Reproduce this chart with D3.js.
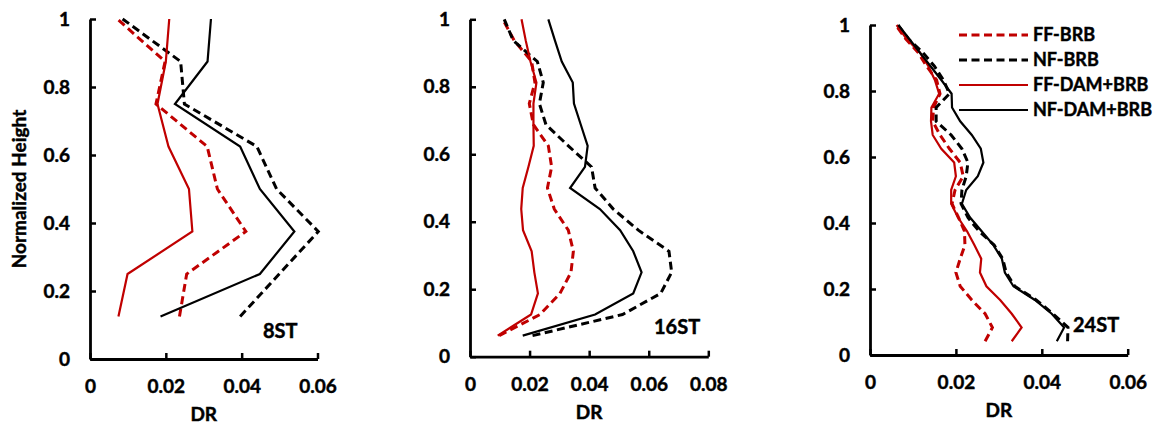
<!DOCTYPE html>
<html>
<head>
<meta charset="utf-8">
<script src="https://cdn.jsdelivr.net/npm/d3@7/dist/d3.min.js"></script>
<style>
  html, body { margin: 0; padding: 0; background: #fff; }
  svg { display: block; }
  text { font-family: Lato, "Open Sans", sans-serif; font-weight: 700; fill: #000;
         stroke: #000; stroke-width: 0.45px; }
</style>
</head>
<body>
<svg id="chart" width="1158" height="427"></svg>
<script>
// Normalized storey heights for each building
const heights8 = [0.125, 0.25, 0.375, 0.5, 0.625, 0.75, 0.875, 1];
const heights16 = [0.0625, 0.125, 0.1875, 0.25, 0.3125, 0.375, 0.4375, 0.5,
                   0.5625, 0.625, 0.6875, 0.75, 0.8125, 0.875, 0.9375, 1];
const heights24 = [0.0417, 0.0833, 0.125, 0.1667, 0.2083, 0.25, 0.2917, 0.3333,
                   0.375, 0.4167, 0.4583, 0.5, 0.5417, 0.5833, 0.625, 0.6667,
                   0.7083, 0.75, 0.7917, 0.8333, 0.875, 0.9167, 0.9583, 1];

// Series names (legend order)
const seriesNames = ["FF-BRB", "NF-BRB", "FF-DAM+BRB", "NF-DAM+BRB"];

// Peak drift ratios, bottom storey first — 8-storey frame
const dr8_ffBrb    = [0.0236, 0.0255, 0.0411, 0.0336, 0.0309, 0.0174, 0.0198, 0.0072];
const dr8_nfBrb    = [0.0396, 0.0499, 0.0602, 0.0492, 0.0440, 0.0249, 0.0239, 0.0086];
const dr8_ffDamBrb = [0.0075, 0.0099, 0.0270, 0.0261, 0.0207, 0.0178, 0.0200, 0.0209];
const dr8_nfDamBrb = [0.0186, 0.0448, 0.0539, 0.0448, 0.0396, 0.0224, 0.0310, 0.0319];

// 16-storey frame
const dr16_ffBrb    = [0.0098, 0.0235, 0.0302, 0.0339, 0.0347, 0.0330, 0.0283, 0.0260,
                       0.0274, 0.0263, 0.0213, 0.0199, 0.0218, 0.0207, 0.0148, 0.0110];
const dr16_nfBrb    = [0.0210, 0.0512, 0.0640, 0.0677, 0.0668, 0.0565, 0.0481, 0.0420,
                       0.0408, 0.0330, 0.0255, 0.0233, 0.0246, 0.0226, 0.0145, 0.0115];
const dr16_ffDamBrb = [0.0093, 0.0205, 0.0228, 0.0216, 0.0207, 0.0178, 0.0172, 0.0177,
                       0.0196, 0.0214, 0.0213, 0.0213, 0.0223, 0.0203, 0.0187, 0.0173];
const dr16_nfDamBrb = [0.0177, 0.0420, 0.0548, 0.0576, 0.0548, 0.0504, 0.0436, 0.0336,
                       0.0386, 0.0395, 0.0372, 0.0349, 0.0345, 0.0308, 0.0285, 0.0263];

// 24-storey frame
const dr24_ffBrb    = [0.0268, 0.0285, 0.0268, 0.0237, 0.0210, 0.0200, 0.0210, 0.0221,
                       0.0220, 0.0206, 0.0191, 0.0198, 0.0217, 0.0210, 0.0185, 0.0163,
                       0.0146, 0.0148, 0.0163, 0.0155, 0.0132, 0.0112, 0.0083, 0.0060];
const dr24_nfBrb    = [0.0460, 0.0461, 0.0426, 0.0387, 0.0337, 0.0317, 0.0309, 0.0289,
                       0.0254, 0.0228, 0.0212, 0.0214, 0.0224, 0.0228, 0.0214, 0.0189,
                       0.0154, 0.0154, 0.0185, 0.0171, 0.0150, 0.0123, 0.0089, 0.0065];
const dr24_ffDamBrb = [0.0330, 0.0353, 0.0330, 0.0303, 0.0271, 0.0256, 0.0259, 0.0243,
                       0.0226, 0.0205, 0.0189, 0.0189, 0.0200, 0.0196, 0.0166, 0.0146,
                       0.0142, 0.0143, 0.0161, 0.0151, 0.0136, 0.0116, 0.0085, 0.0062];
const dr24_nfDamBrb = [0.0435, 0.0452, 0.0423, 0.0384, 0.0334, 0.0314, 0.0307, 0.0287,
                       0.0260, 0.0233, 0.0214, 0.0224, 0.0251, 0.0264, 0.0258, 0.0237,
                       0.0210, 0.0191, 0.0190, 0.0166, 0.0141, 0.0116, 0.0091, 0.0066];

// Tick values
const yTicks = [0, 0.2, 0.4, 0.6, 0.8, 1];
const xTicks8 = [0, 0.02, 0.04, 0.06];
const xTicks16 = [0, 0.02, 0.04, 0.06, 0.08];
const xTicks24 = [0, 0.02, 0.04, 0.06];

const panelLabels = ["8ST", "16ST", "24ST"];

// Line styles per series
const styles = [
  { color: "#c00000", width: 3,   dash: "8,4.5" },
  { color: "#000000", width: 3,   dash: "8,4.5" },
  { color: "#c00000", width: 2.2, dash: null },
  { color: "#000000", width: 2.2, dash: null }
];

const panels = [
  { x0: 90,  x1: 317.5, yTop: 19,   yBot: 359,   xMax: 0.06, xTicks: xTicks8,
    heights: heights8,  series: [dr8_ffBrb, dr8_nfBrb, dr8_ffDamBrb, dr8_nfDamBrb],
    label: panelLabels[0], labelPos: [263, 338], yTitle: true },
  { x0: 470, x1: 708.3, yTop: 19.3, yBot: 356.7, xMax: 0.08, xTicks: xTicks16,
    heights: heights16, series: [dr16_ffBrb, dr16_nfBrb, dr16_ffDamBrb, dr16_nfDamBrb],
    label: panelLabels[1], labelPos: [654, 334] },
  { x0: 870, x1: 1127.7, yTop: 25,  yBot: 355,   xMax: 0.06, xTicks: xTicks24,
    heights: heights24, series: [dr24_ffBrb, dr24_nfBrb, dr24_ffDamBrb, dr24_nfDamBrb],
    label: panelLabels[2], labelPos: [1073, 332], legend: true }
];

const svg = d3.select("#chart");
const fmt = d3.format("~g");

panels.forEach(p => {
  const x = d3.scaleLinear().domain([0, p.xMax]).range([p.x0, p.x1]);
  const y = d3.scaleLinear().domain([0, 1]).range([p.yBot, p.yTop]);
  const g = svg.append("g");

  // Drift profiles
  const line = d3.line().x(d => x(d[0])).y(d => y(d[1]));
  p.series.forEach((vals, i) => {
    const s = styles[i];
    g.append("path")
      .datum(vals.map((v, j) => [v, p.heights[j]]))
      .attr("d", line)
      .attr("fill", "none")
      .attr("stroke", s.color)
      .attr("stroke-width", s.width)
      .attr("stroke-dasharray", s.dash)
      .attr("stroke-linejoin", "miter");
  });

  // Axes with inward ticks
  const xAxis = d3.axisBottom(x).tickValues(p.xTicks).tickFormat(fmt)
    .tickSizeInner(-6).tickSizeOuter(0).tickPadding(21);
  const yAxis = d3.axisLeft(y).tickValues(yTicks).tickFormat(fmt)
    .tickSizeInner(-6).tickSizeOuter(0).tickPadding(20);

  const gx = g.append("g").attr("transform", `translate(0,${p.yBot})`).call(xAxis);
  const gy = g.append("g").attr("transform", `translate(${p.x0},0)`).call(yAxis);
  [gx, gy].forEach(a => {
    a.select(".domain").attr("stroke", "#000").attr("stroke-width", 2.8);
    a.selectAll(".tick line").attr("stroke", "#000").attr("stroke-width", 2.5);
    a.selectAll(".tick text")
      .style("font-family", "Lato, 'Open Sans', sans-serif")
      .style("font-weight", 700).style("font-size", "19px")
      .attr("fill", "#000").attr("stroke", "#000").attr("stroke-width", 0.45);
  });

  // Axis titles
  g.append("text")
    .attr("x", (p.x0 + p.x1) / 2).attr("y", p.yBot + 62)
    .attr("text-anchor", "middle").style("font-size", "19px").text("DR");
  if (p.yTitle) {
    g.append("text")
      .attr("transform", `translate(26,${(p.yTop + p.yBot) / 2}) rotate(-90)`)
      .attr("text-anchor", "middle").style("font-size", "19px").text("Normalized Height");
  }

  // Building label
  g.append("text").attr("x", p.labelPos[0]).attr("y", p.labelPos[1])
    .style("font-size", "20px").text(p.label);

  // Legend
  if (p.legend) {
    const lg = g.append("g");
    seriesNames.forEach((name, i) => {
      const s = styles[i];
      const cy = 35 + i * 25;
      lg.append("line").attr("x1", 959).attr("x2", 1028).attr("y1", cy).attr("y2", cy)
        .attr("stroke", s.color).attr("stroke-width", s.width)
        .attr("stroke-dasharray", s.dash);
      lg.append("text").attr("x", 1033).attr("y", cy).attr("dy", "0.35em")
        .style("font-size", "18px").text(name);
    });
  }
});
</script>
</body>
</html>
